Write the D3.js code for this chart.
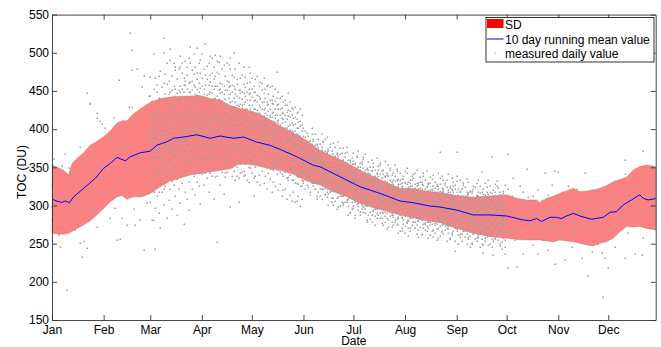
<!DOCTYPE html>
<html><head><meta charset="utf-8">
<script src="https://cdn.jsdelivr.net/npm/d3@7"></script>
<style>
body{margin:0;background:#fff;}
svg{display:block;font-family:"Liberation Sans",Arial,Helvetica,sans-serif;}
</style></head><body>
<svg id="chart" width="661" height="347"></svg>
<script>
// ---- data ----
const monthDays = [1,32,60,91,121,152,182,213,244,274,305,335];
const monthLabels = ["Jan","Feb","Mar","Apr","May","Jun","Jul","Aug","Sep","Oct","Nov","Dec"];
const yTicks = [150,200,250,300,350,400,450,500,550];

const bandDays = [1,4,8,11,13,16,20,24,28,32,36,40,43,46,50,55,60,66,72,78,84,90,96,102,108,114,122,130,138,146,154,162,170,178,186,194,202,210,218,226,234,244,254,264,274,280,286,292,294,298,302,306,310,314,318,322,326,330,334,338,342,346,350,354,358,363.5];
const sdUpper = [353.5,350,346,340,355,361.6,369,379,384,390,398,408,411,411,420,428,435,440,442,443,443.5,444,440,438,431,427,422.6,415,404,395,385,372,364,356,346,338,330,322.4,322,318.5,317,313,310.7,312.4,314,309.4,307.2,307.2,303.7,309.4,312,316,319,322.5,318,319,320.3,322.5,326,331.2,334,337,346.5,350.9,353,350.9];
const sdLower = [263.5,262.5,262.2,263.5,266,270,274.3,280,288,296.2,305,311,313,308,311.4,311.4,315.8,324.5,332,336,340,342,344,346,348,355,353,349,346,341,332,326.7,318,311.5,302.7,297,292.5,287.4,284,280,277.5,270,263.5,259.2,257,255.5,254.8,254.8,254.8,253.5,252.6,254.8,253.5,252.6,250.5,248.3,247,250.4,252.5,257,265.7,272.3,271.8,272.5,270,267.9];

const meanDays = [1,4,7,9,11.5,14,20,27,32,36,40,45,48,54,60,64,70,74,82,88,96,102,110,116,124,132,138,144,150,158,162,174,186,198,210,218,228,234,244,254,264,274,284,288,292,295,300,304,307,309,314,318,325,332,336,340,344,349,352,354,356,359,363.5];
const meanValues = [308.4,305.5,304,306,303.6,311.4,322.4,335.5,348.6,355,363,358.5,363.8,369,371.2,379,383.4,388,390.4,392.6,388,391,388,389.6,383,378.7,373.4,367.8,361.6,352.6,350.7,337.6,324.5,315.8,305.8,303.6,299.2,298,294,287.6,287.6,286.2,281,280,283,279,284.5,284.5,282.7,285.4,289.7,286.2,281.9,284.5,291,292,300.7,307.2,311.6,313.8,309.4,307.2,309];

// measured daily values: [day of year, [TOC values (DU)]]
const measuredDaily = [
[1,[298,327,281]],[2,[361,312]],[3,[318,276,339]],[4,[287,309]],[5,[334,261,301]],[6,[296,246,322]],[7,[352,289]],[8,[271,315,336]],[9,[312,368,294]],[10,[189,330,284]],[11,[282,307,349]],[12,[343,296]],[13,[300,272,321]],[14,[326,351]],[15,[268,309,337]],[16,[358,292,318]],[17,[309,344,281]],[18,[377,251,327]],[19,[291,232,356]],[20,[254,338,312]],[21,[320,296,349]],[22,[244,447,331,305]],[23,[353,287,319]],[24,[434,305,433,342]],[25,[283,361,326]],[26,[362,317,296]],[27,[341,372,309]],[28,[421,272,414,348]],[29,[318,381,337]],[30,[294,410,352,326]],[31,[366,407,334]],
[32,[352,318,376]],[33,[401,318,345]],[34,[371,336,303]],[35,[309,384,357]],[36,[388,283,341]],[37,[343,372,319]],[38,[415,327,363]],[39,[297,351,388]],[40,[362,255,331,397]],[41,[464,394,338]],[42,[336,256,374]],[43,[377,283,349,406]],[44,[318,362,391]],[45,[402,351,329]],[46,[274,381,345]],[47,[368,429,339]],[48,[526,338,395,367]],[49,[504,477,429,353]],[50,[389,296,364]],[51,[356,274,409]],[52,[479,412,343,378]],[53,[325,386,358]],[54,[398,281,347,419]],[55,[455,364,332]],[56,[371,242,470,398]],[57,[342,418,383]],[58,[303,389,361,427]],[59,[444,352,396,374]],
[60,[468,412,384,357,395,338,305,371]],[61,[392,421,355,281,376,403,348]],[62,[498,428,376,331,389,362,409,281]],[63,[243,410,362,297,467,383,341,396]],[64,[449,387,344,313,401,372,426]],[65,[469,398,421,352,290,377,364,411]],[66,[436,373,329,271,392,405,358]],[67,[455,405,361,318,383,429,397,346]],[68,[520,500,414,384,343,301,371,398]],[69,[472,428,369,326,391,357,412,381]],[70,[459,391,408,351,284,374,422,363]],[71,[446,377,336,307,401,389,418,358]],[72,[505,490,417,395,359,322,378,436]],[73,[451,382,344,296,407,369,393,426]],[74,[486,430,401,366,327,384,352,413]],[75,[477,452,388,351,312,402,371,426,339]],[76,[438,414,373,335,288,397,359,384]],[77,[479,423,396,359,321,408,376,441]],[78,[481,449,405,381,347,303,362,419,392]],[79,[486,453,420,390,362,329,401,377]],[80,[467,432,399,371,340,276,415,386,356]],[81,[458,426,407,384,353,318,394,372,437]],[82,[482,441,413,379,344,309,398,366,427]],[83,[449,418,392,366,331,294,405,381,357]],[84,[508,487,448,425,401,372,349,388,414]],[85,[463,434,409,386,355,322,397,373,419]],[86,[472,439,417,393,362,338,405,378,352]],[87,[455,428,403,377,343,314,391,366,421]],[88,[506,474,445,421,396,368,331,384,409]],[89,[461,430,411,389,357,326,400,372,437]],[90,[491,454,433,402,375,348,302,388,419]],
[91,[467,431,409,396,372,353,418,384,341]],[92,[452,437,401,388,362,327,414,379]],[93,[511,471,426,399,381,366,343,410]],[94,[483,445,419,392,374,357,336,403]],[95,[458,424,413,387,369,348,395,318]],[96,[496,462,433,406,380,361,391,352]],[97,[473,447,422,400,383,370,339,414]],[98,[465,439,417,389,376,355,308,428]],[99,[497,456,430,402,393,365,346,381]],[100,[489,475,444,419,397,386,359,338,252]],[101,[488,451,423,408,391,373,349,431]],[102,[461,436,412,395,378,362,327,402]],[103,[479,448,426,404,385,367,344,416]],[104,[456,433,410,399,372,358,315,390]],[105,[470,439,421,401,387,369,337,352]],[106,[463,432,418,396,381,362,344,407]],[107,[484,455,428,411,392,375,349,364]],[108,[479,446,427,403,389,368,357,298]],[109,[458,437,415,398,380,366,339,423]],[110,[500,468,441,419,406,388,371,345]],[111,[452,429,410,393,377,360,334,400]],[112,[466,444,423,404,386,369,350,412]],[113,[451,430,417,397,379,358,336,305]],[114,[447,425,408,392,381,363,342,399]],[115,[471,440,419,402,385,371,354,428]],[116,[459,433,414,395,376,366,345,406]],[117,[455,436,420,398,387,372,340,361]],[118,[448,427,411,390,374,359,333,402]],[119,[481,452,431,409,393,378,360,331]],[120,[462,438,416,401,384,368,349,423]],
[121,[453,431,412,397,380,369,342,406]],[122,[449,426,407,389,372,358,336,312]],[123,[466,438,419,403,384,366,351,394]],[124,[445,421,411,392,376,355,331,401]],[125,[457,432,414,396,383,362,340,371]],[126,[439,420,404,388,374,357,327,396]],[127,[461,436,417,399,386,368,345,378]],[128,[447,425,405,391,371,353,329,410]],[129,[452,428,413,394,379,364,338,402]],[130,[436,418,398,384,367,349,322,406]],[131,[458,433,412,397,380,361,343,389]],[132,[455,427,409,392,375,357,335,418]],[133,[438,416,401,385,369,348,318,393]],[134,[444,422,406,390,373,355,331,381]],[135,[437,414,398,382,366,350,325,409]],[136,[475,431,411,394,377,360,341,387]],[137,[433,412,396,380,364,346,320,403]],[138,[441,419,400,386,371,353,328,362]],[139,[428,408,392,375,359,341,313,399]],[140,[435,413,397,381,366,347,320,358]],[141,[431,409,393,378,361,344,321,401]],[142,[422,402,386,371,355,336,309,389]],[143,[447,425,404,388,372,357,333,366]],[144,[424,405,389,374,358,340,314,395]],[145,[419,398,383,368,351,334,306,377]],[146,[427,406,391,376,360,343,318,353]],[147,[416,397,381,366,349,330,304,389]],[148,[413,394,379,364,347,329,306,372]],[149,[422,401,386,370,354,337,312,345]],[150,[410,391,376,361,344,326,299,383]],[151,[418,398,382,367,350,333,308,359]],
[152,[330,344,355,364,373,387,402]],[153,[322,340,351,360,370,381,390]],[154,[340,351,360,370,381,395]],[155,[334,347,356,366,375,391]],[156,[314,335,345,356,364,376,385]],[157,[329,342,352,361,371,380,401]],[158,[330,343,352,362,371,387]],[159,[322,336,347,356,365,379,394]],[160,[309,330,340,351,359,371,380]],[161,[332,343,352,362,373,387]],[162,[312,330,341,350,360,371,380]],[163,[322,335,345,354,364,373,394]],[164,[328,339,348,358,369,383]],[165,[315,329,340,349,358,372,387]],[166,[318,331,341,350,360,369,390]],[167,[301,322,332,343,351,363,372]],[168,[319,332,341,351,360,376]],[169,[304,322,333,342,352,363,372]],[170,[310,324,335,344,353,367,382]],[171,[321,332,341,351,362,376]],[172,[296,317,327,338,346,358,367]],[173,[311,324,334,343,353,362,383]],[174,[299,317,328,337,347,358,367]],[175,[312,325,334,344,353,369]],[176,[303,317,328,337,346,360,375]],[177,[314,325,334,344,355,369]],[178,[305,318,328,337,347,356,377]],[179,[288,309,319,330,338,350,359]],[180,[292,310,321,330,340,351,360]],[181,[305,318,327,337,346,362]],
[182,[297,311,322,331,340,354,369]],[183,[284,305,315,326,334,346,355]],[184,[308,319,328,338,349,363]],[185,[299,312,322,331,341,350,371]],[186,[287,305,316,325,335,346,355]],[187,[300,313,322,332,341,357]],[188,[292,306,317,326,335,349,364]],[189,[295,308,318,327,337,346,367]],[190,[278,299,309,320,328,340,349]],[191,[302,313,322,332,343,357]],[192,[282,300,311,320,330,341,350]],[193,[288,302,313,322,331,345,360]],[194,[294,307,316,326,335,351]],[195,[275,296,306,317,325,337,346]],[196,[290,303,313,322,332,341,362]],[197,[297,308,317,327,338,352]],[198,[284,298,309,318,327,341,356]],[199,[277,295,306,315,325,336,345]],[200,[290,303,312,322,331,347]],[201,[286,299,309,318,328,337,358]],[202,[269,290,300,311,319,331,340]],[203,[281,295,306,315,324,338,353]],[204,[292,303,312,322,333,347]],[205,[272,290,301,310,320,331,340]],[206,[285,298,307,317,326,342]],[207,[281,294,304,313,323,332,353]],[208,[276,290,301,310,319,333,348]],[209,[264,285,295,306,314,326,335]],[210,[287,298,307,317,328,342]],[211,[267,285,296,305,315,326,335]],[212,[281,294,303,313,322,338]],
[213,[273,287,298,307,316,330,345]],[214,[277,290,300,309,319,328,349]],[215,[260,281,291,302,310,322,331]],[216,[266,284,295,304,314,325,334]],[217,[284,295,304,314,325,339]],[218,[279,292,301,311,320,336]],[219,[271,285,296,305,314,328,343]],[220,[275,288,298,307,317,326,347]],[221,[259,280,290,301,309,321,330]],[222,[282,293,302,312,323,337]],[223,[263,281,292,301,311,322,331]],[224,[270,284,295,304,313,327,342]],[225,[276,289,298,308,317,333]],[226,[273,286,296,305,315,324,345]],[227,[257,278,288,299,307,319,328]],[228,[261,279,290,299,309,320,329]],[229,[280,291,300,310,321,335]],[230,[268,282,293,302,311,325,340]],[231,[274,287,296,306,315,331]],[232,[255,276,286,297,305,317,326]],[233,[271,284,294,303,313,322,343]],[234,[260,278,289,298,308,319,328,370]],[235,[266,280,291,300,309,323,338]],[236,[278,289,298,308,319,333]],[237,[273,286,295,305,314,330]],[238,[253,274,284,295,303,315,324]],[239,[269,282,292,301,311,320,341]],[240,[258,276,287,296,306,317,326]],[241,[264,278,289,298,307,321,336]],[242,[276,287,296,306,317,331]],[243,[270,283,292,302,311,327,240]],
[244,[267,280,290,299,309,318,339,370]],[245,[250,271,281,292,300,312,321]],[246,[262,276,287,296,305,319,334]],[247,[254,272,283,292,302,313,322]],[248,[272,283,292,302,313,327]],[249,[267,280,289,299,308,324]],[250,[263,276,286,295,305,314,335]],[251,[259,273,284,293,302,316,331]],[252,[246,267,277,288,296,308,317]],[253,[251,269,280,289,299,310,319]],[254,[264,277,286,296,305,321]],[255,[269,280,289,299,310,324]],[256,[257,271,282,291,300,314,329]],[257,[261,274,284,293,303,312,333]],[258,[245,266,276,287,295,307,316]],[259,[250,268,279,288,298,309,318,344]],[260,[264,277,286,296,305,321,238]],[261,[257,271,282,291,300,314,329]],[262,[269,280,289,299,310,324]],[263,[261,274,284,293,303,312,333]],[264,[250,268,279,288,298,309,318]],[265,[245,266,276,287,295,307,316,364]],[266,[263,276,285,295,304,320,235]],[267,[256,270,281,290,299,313,328]],[268,[260,273,283,292,302,311,332]],[269,[268,279,288,298,309,323]],[270,[249,267,278,287,297,308,317]],[271,[243,264,274,285,293,305,314]],[272,[262,275,284,294,303,319]],[273,[255,269,280,289,298,312,327,236]],
[274,[296,271,309]],[275,[368,321,301,283,266,218]],[276,[291,263]],[277,[312,294,276,260]],[278,[336,287,268,302]],[279,[279,255]],[280,[307,290,272,220]],[281,[296,269]],[282,[326,298,279,261]],[283,[305,284]],[284,[318,287,237,266]],[285,[293,271]],[286,[348,302,283,265]],[287,[311,277]],[288,[295,274,256]],[289,[288,262]],[290,[313,290,270,248]],[291,[301,281]],[292,[275,258]],[293,[320,301,282,237]],[294,[292,268]],[295,[307,286,266]],[296,[279,255]],[297,[342,296,277,259]],[298,[305,286]],[299,[314,289,270,242]],[300,[297,266]],[301,[327,302,281,263]],[302,[288,273]],[303,[345,293,274,224]],[304,[309,262]],
[305,[344,307,286,267]],[306,[295,274]],[307,[318,296,274,256]],[308,[284,263]],[309,[303,282,261,229]],[310,[311,290]],[311,[325,290,270]],[312,[298,279]],[313,[312,286,263,246]],[314,[304,271]],[315,[298,277,258]],[316,[322,287]],[317,[316,291,268]],[318,[299,276]],[319,[305,283,260,231]],[320,[292,269]],[321,[343,312,288,266]],[322,[306,281]],[323,[297,275,254,207]],[324,[287,262]],[325,[320,293,271,239]],[326,[304,279]],[327,[308,285,262]],[328,[297,270]],[329,[316,290,268,250]],[330,[306,283]],[331,[301,279,258,238]],[332,[180,291]],[333,[322,296,273,231]],[334,[309,284]],
[335,[312,289,266,218]],[336,[300,277]],[337,[327,301,278]],[338,[316,292]],[339,[315,292,271,245]],[340,[305,283]],[341,[331,306,283,265]],[342,[319,296]],[343,[320,297,276]],[344,[308,287]],[345,[359,341,312,289,231]],[346,[324,299]],[347,[326,303,281,264]],[348,[314,290]],[349,[336,318,294,273]],[350,[306,284]],[351,[309,286,237]],[352,[327,301]],[353,[344,322,299,277]],[354,[315,292]],[355,[333,310,288,235]],[356,[371,257,323]],[357,[340,317,295,273]],[358,[331,306]],[359,[328,305,283]],[360,[318,296]],[361,[347,321,299,278]],[362,[336,310]],[363,[334,311,290,269]]
];

// further measured daily values for the dense season (same format)
const measuredDailyMore = [
[60,[443,419,367,349,326,387]],[61,[437,398,384,362,332,411]],[62,[452,417,394,369,343,318]],[63,[431,406,389,373,352,421]],[64,[458,415,393,363,337,380]],[65,[441,427,386,371,345,318]],[66,[476,419,399,381,349,364]],[67,[439,414,375,351,337,392]],[68,[461,432,405,378,357,321]],[69,[446,420,398,383,343,407]],[70,[487,437,414,397,376,339]],[71,[463,429,403,369,348,387]],[72,[449,426,406,386,370,341]],[73,[470,437,415,373,358,332]],[74,[457,443,420,391,377,343]],[75,[482,433,414,394,363,381]],[76,[466,447,426,405,384,351]],[77,[451,437,413,386,368,344]],[78,[496,457,434,417,371,338]],[79,[474,441,409,397,384,351]],[80,[458,449,421,410,389,363]],[81,[489,463,442,416,398,368]],[82,[471,453,428,401,388,356]],[83,[493,461,437,422,409,379]],[84,[462,439,417,395,381,359]],[85,[478,451,426,401,364,344]],[86,[499,458,428,411,384,368]],[87,[481,446,436,414,399,351]],[88,[466,452,434,408,378,357]],[89,[486,448,423,402,381,343]],[90,[473,441,419,408,391,362]],
[91,[499,456,427,400,389,361]],[92,[479,446,423,406,392,371]],[93,[458,437,414,391,377,356]],[94,[466,432,411,385,362,349]],[95,[487,446,437,401,376,363]],[96,[471,448,418,397,372,342]],[97,[493,457,431,407,395,377]],[98,[481,452,409,398,381,366]],[99,[469,441,418,413,376,337]],[100,[457,431,412,378,365,349]],[101,[472,439,414,399,384,361]],[102,[496,453,447,421,386,371]],[103,[459,437,411,393,378,353]],[104,[484,446,421,409,384,366]],[105,[451,428,409,376,358,343]],[106,[487,451,426,403,373,353]],[107,[462,441,416,402,383,367]],[108,[493,456,436,413,395,376]],[109,[471,448,428,406,391,351]],[110,[457,429,411,398,379,358]],[111,[479,446,436,418,387,371]],[112,[459,431,397,377,359,339]],[113,[486,441,422,406,389,369]],[114,[467,451,433,414,372,354]],[115,[449,431,408,392,363,344]],[116,[482,447,423,378,356,339]],[117,[468,444,426,412,381,354]],[118,[461,438,421,403,385,365]],[119,[446,416,401,386,369,351]],[120,[474,447,427,409,392,361]],
[121,[467,442,421,388,375,356]],[122,[456,437,417,398,381,364]],[123,[448,427,409,377,358,338]],[124,[469,436,425,406,387,366]],[125,[443,421,406,389,376,353]],[126,[462,441,429,411,383,364]],[127,[451,427,408,391,374,355]],[128,[467,436,417,398,381,361]],[129,[441,421,407,386,371,353]],[130,[457,431,412,392,378,359]],[131,[446,424,404,387,371,351]],[132,[438,416,398,381,366,348]],[133,[457,434,421,402,378,357]],[134,[433,411,400,383,364,347]],[135,[452,427,419,393,376,358]],[136,[441,419,401,387,370,352]],[137,[449,426,408,391,373,355]],[138,[427,406,389,377,359,344]],[139,[443,421,415,397,381,363]],[140,[421,401,389,374,356,338]],[141,[438,419,402,384,369,351]],[142,[432,413,396,382,363,347]],[143,[417,398,387,368,349,337]],[144,[436,416,399,384,366,348]],[145,[428,408,391,378,361,344]],[146,[414,396,381,368,351,333]],[147,[429,407,391,375,358,343]],[148,[421,402,386,373,356,339]],[149,[409,392,378,363,348,328]],[150,[426,404,389,374,357,341]],[151,[405,389,373,359,342,326]],
[152,[332,345,356,367,375,391]],[153,[335,347,359,369,376,398]],[154,[327,336,348,359,366,380]],[155,[324,337,349,360,377,383]],[156,[317,339,350,361,369,384]],[157,[331,343,355,365,372,394]],[158,[325,338,349,360,368,384]],[159,[321,330,342,353,360,374]],[160,[312,334,345,356,364,379]],[161,[317,330,342,353,370,376]],[162,[321,334,345,356,364,380]],[163,[309,331,342,353,361,376]],[164,[322,334,346,356,363,385]],[165,[314,323,335,346,353,367]],[166,[311,324,336,347,364,370]],[167,[315,328,339,350,358,374]],[168,[318,330,342,352,359,381]],[169,[310,319,331,342,349,363]],[170,[301,323,334,345,353,368]],[171,[306,319,331,342,359,365]],[172,[310,323,334,345,353,369]],[173,[298,320,331,342,350,365]],[174,[312,324,336,346,353,375]],[175,[304,313,325,336,343,357]],[176,[300,313,325,336,353,359]],[177,[304,317,328,339,347,363]],[178,[307,319,331,341,348,370]],[179,[299,308,320,331,338,352]],[180,[290,312,323,334,342,357]],[181,[295,308,320,331,348,354]],
[182,[299,312,323,334,342,358]],[183,[287,309,320,331,339,354]],[184,[302,314,326,336,343,365]],[185,[294,303,315,326,333,347]],[186,[291,304,316,327,344,350]],[187,[295,308,319,330,338,354]],[188,[298,310,322,332,339,361]],[189,[290,299,311,322,329,343]],[190,[281,303,314,325,333,348]],[191,[287,300,312,323,340,346]],[192,[291,304,315,326,334,350]],[193,[279,301,312,323,331,346]],[194,[293,305,317,327,334,356]],[195,[286,295,307,318,325,339]],[196,[283,296,308,319,336,342]],[197,[287,300,311,322,330,346]],[198,[290,302,314,324,331,353]],[199,[283,292,304,315,322,336]],[200,[274,296,307,318,326,341]],[201,[279,292,304,315,332,338]],[202,[283,296,307,318,326,342]],[203,[272,294,305,316,324,339]],[204,[286,298,310,320,327,349]],[205,[278,287,299,310,317,331]],[206,[275,288,300,311,328,334]],[207,[279,292,303,314,322,338]],[208,[282,294,306,316,323,345]],[209,[275,284,296,307,314,328]],[210,[266,288,299,310,318,333]],[211,[271,284,296,307,324,330]],[212,[276,289,300,311,319,335]],
[213,[264,286,297,308,316,331]],[214,[279,291,303,313,320,342]],[215,[271,280,292,303,310,324]],[216,[270,283,295,306,323,329]],[217,[274,287,298,309,317,333]],[218,[278,290,302,312,319,341]],[219,[270,279,291,302,309,323]],[220,[262,284,295,306,314,329]],[221,[268,281,293,304,321,327]],[222,[272,285,296,307,315,331]],[223,[261,283,294,305,313,328]],[224,[276,288,300,310,317,339]],[225,[268,277,289,300,307,321]],[226,[266,279,291,302,319,325]],[227,[271,284,295,306,314,330]],[228,[274,286,298,308,315,337]],[229,[267,276,288,299,306,320]],[230,[259,281,292,303,311,326]],[231,[264,277,289,300,317,323]],[232,[269,282,293,304,312,328]],[233,[258,280,291,302,310,325]],[234,[273,285,297,307,314,336]],[235,[265,274,286,297,304,318]],[236,[263,276,288,299,316,322]],[237,[268,281,292,303,311,327]],[238,[271,283,295,305,312,334]],[239,[264,273,285,296,303,317]],[240,[256,278,289,300,308,323]],[241,[261,274,286,297,314,320]],[242,[266,279,290,301,309,325]],[243,[254,276,287,298,306,321]],
[244,[269,281,293,303,310,332]],[245,[261,270,282,293,300,314]],[246,[259,272,284,295,312,318]],[247,[263,276,287,298,306,322]],[248,[266,278,290,300,307,329]],[249,[259,268,280,291,298,312]],[250,[250,272,283,294,302,317]],[251,[256,269,281,292,309,315]],[252,[260,273,284,295,303,319]],[253,[249,271,282,293,301,316]],[254,[263,275,287,297,304,326]],[255,[256,265,277,288,295,309]],[256,[254,267,279,290,307,313]],[257,[259,272,283,294,302,318]],[258,[263,275,287,297,304,326]],[259,[256,265,277,288,295,309]],[260,[248,270,281,292,300,315]],[261,[254,267,279,290,307,313]],[262,[259,272,283,294,302,318]],[263,[248,270,281,292,300,315]],[264,[263,275,287,297,304,326]],[265,[256,265,277,288,295,309]],[266,[253,266,278,289,306,312]],[267,[258,271,282,293,301,317]],[268,[262,274,286,296,303,325]],[269,[255,264,276,287,294,308]],[270,[247,269,280,291,299,314]],[271,[252,265,277,288,305,311]],[272,[257,270,281,292,300,316]],[273,[246,268,279,290,298,313]]
];

// ---- layout ----
const svg = d3.select("#chart");
const L = 52, R = 655.7, T = 14.6, B = 320;
const x = d3.scaleLinear().domain([1, 363.5]).range([L, R]);
const y = d3.scaleLinear().domain([150, 550]).range([B, T]);

const band = bandDays.map((d,i)=>({d, hi: sdUpper[i], lo: sdLower[i]}));
const meanPts = meanDays.map((d,i)=>({d, v: meanValues[i]}));
const pts = [];
measuredDaily.concat(measuredDailyMore).forEach(([d, vals]) => vals.forEach(v => pts.push({d, v})));

// SD band
svg.append("path")
  .datum(band)
  .attr("d", d3.area().x(p=>x(p.d)).y0(p=>y(p.lo)).y1(p=>y(p.hi)))
  .attr("fill", "#ff8080")
  .attr("stroke", "rgba(140,100,100,0.55)")
  .attr("stroke-width", 0.6);

// measured points
svg.append("g").selectAll("rect").data(pts).join("rect")
  .attr("x", p=>Math.round(x(p.d))-0.5).attr("y", p=>Math.round(y(p.v))-0.5)
  .attr("width", 1.5).attr("height", 1.5)
  .attr("fill", "#a0a0a0");

// mean line
svg.append("path")
  .datum(meanPts)
  .attr("d", d3.line().x(p=>x(p.d)).y(p=>y(p.v)))
  .attr("fill", "none").attr("stroke", "#0000ff").attr("stroke-width", 1);

// axes
const axisColor = "#333";
function styleAxis(g){
  g.attr("font-family", null);
  g.selectAll("path,line").attr("stroke", axisColor).attr("stroke-width", 0.9);
  g.selectAll("text").attr("fill", "#000").attr("font-size", 12);
}
const xAxisB = d3.axisBottom(x).tickValues(monthDays).tickFormat((d,i)=>monthLabels[i]).tickSizeInner(-5).tickSizeOuter(0).tickPadding(5);
const xAxisT = d3.axisTop(x).tickValues(monthDays).tickFormat("").tickSizeInner(-5).tickSizeOuter(0);
const yAxisL = d3.axisLeft(y).tickValues(yTicks).tickSizeInner(-5).tickSizeOuter(0).tickPadding(3);
const yAxisR = d3.axisRight(y).tickValues(yTicks).tickFormat("").tickSizeInner(-5).tickSizeOuter(0);

svg.append("g").attr("transform", `translate(0,${B})`).call(xAxisB).call(styleAxis);
svg.append("g").attr("transform", `translate(0,${T})`).call(xAxisT).call(styleAxis);
svg.append("g").attr("transform", `translate(${L},0)`).call(yAxisL).call(styleAxis);
svg.append("g").attr("transform", `translate(${R},0)`).call(yAxisR).call(styleAxis);

// axis titles
svg.append("text").attr("x", (L+R)/2).attr("y", 345).attr("text-anchor","middle").attr("font-size",12).text("Date");
svg.append("text").attr("transform","translate(26,172) rotate(-90)").attr("text-anchor","middle").attr("font-size",12).text("TOC (DU)");

// legend
const lg = svg.append("g");
lg.append("rect").attr("x",486).attr("y",17.5).attr("width",168).attr("height",44.5).attr("fill","#fff").attr("stroke","#000").attr("stroke-width",0.8);
lg.append("rect").attr("x",487).attr("y",19).attr("width",16.5).attr("height",9).attr("fill","#ff0000");
lg.append("text").attr("x",505).attr("y",28.5).attr("font-size",12).text("SD");
lg.append("line").attr("x1",487).attr("x2",503.5).attr("y1",39).attr("y2",39).attr("stroke","#0000ff").attr("stroke-width",1);
lg.append("text").attr("x",505).attr("y",43.5).attr("font-size",12).text("10 day running mean value");
lg.append("rect").attr("x",494.5).attr("y",52.5).attr("width",1.2).attr("height",1.2).attr("fill","#a0a0a0");
lg.append("text").attr("x",505).attr("y",58).attr("font-size",12).text("measured daily value");
</script>
</body></html>
